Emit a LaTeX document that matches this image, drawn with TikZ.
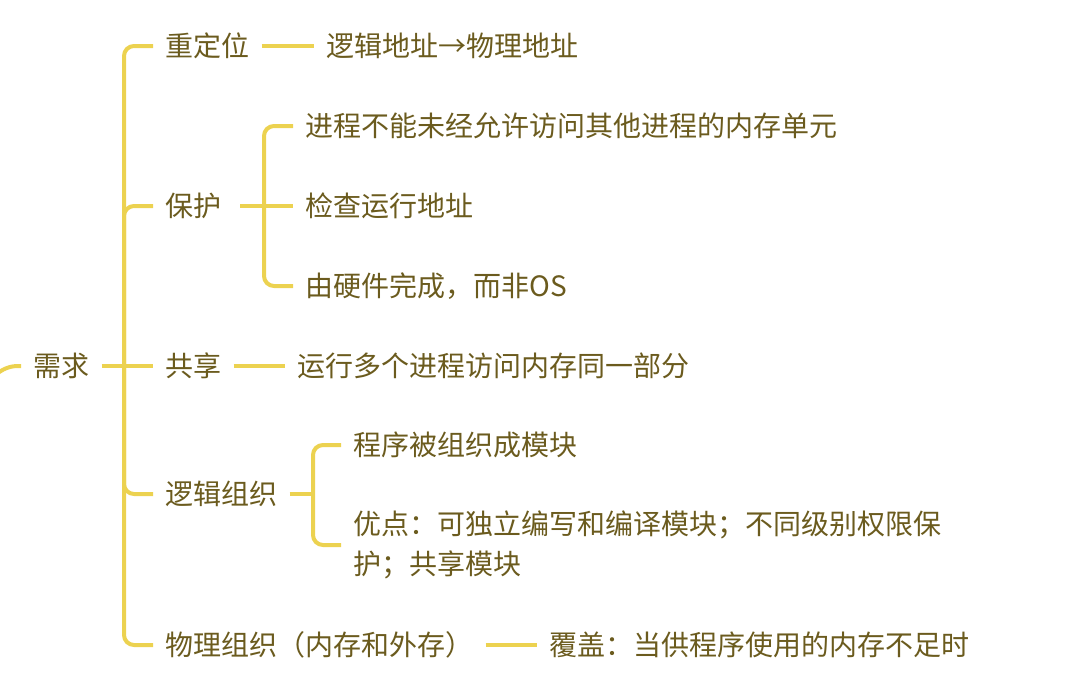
\documentclass[tikz,border=0pt]{standalone}
\usepackage{fontspec}
\setmainfont{Noto Sans CJK SC}
\definecolor{branch}{RGB}{236,210,80}
\definecolor{ink}{RGB}{107,91,30}

\begin{document}
\begin{tikzpicture}[x=0.75pt, y=-0.75pt,
  every node/.style={anchor=west, inner xsep=9pt, inner ysep=2pt, text=ink,
                     font=\fontsize{21}{30}\selectfont},
  link/.style={draw=branch, line width=3pt},
  brace/.style={link, rounded corners=7.5pt}]
  \useasboundingbox (0,0) rectangle (1068,690);
  \begin{scope}
    \clip (0,0) rectangle (1068,690);
  % root and first level
  \node (req) at (21,366) {需求};
  \node (reloc) at (153,46) {重定位};
  \node (prot) at (153,206) {保护};
  \node (share) at (153,366) {共享};
  \node (logic) at (153,494) {逻辑组织};
  \node (phys) at (153,645) {物理组织（内存和外存）};
  \coordinate (spine) at (124,366);
  \coordinate (up) at (-14,400);
  % second level
  \node (addr) at (314,46) {逻辑地址→物理地址};
  \node (p1) at (293,126) {进程不能未经允许访问其他进程的内存单元};
  \node (p2) at (293,206) {检查运行地址};
  \node (p3) at (293,286) {由硬件完成，而非OS};
  \node (s1) at (285,366) {运行多个进程访问内存同一部分};
  \node (m1) at (341,445) {程序被组织成模块};
  \node[align=left] (m2) at (341,545) {优点：可独立编写和编译模块；不同级别权限保\\护；共享模块};
  \node (o1) at (537,645) {覆盖：当供程序使用的内存不足时};
  \coordinate (pspine) at (264,206);
  \coordinate (lspine) at (313,494);
  % braces
  \draw[link, rounded corners=24pt] (up) |- (req.west);
  \foreach \n in {reloc,prot,logic,phys}{ \draw[brace] (spine) |- (\n.west); }
  \draw[link] (req.east) -- (share.west);
  \draw[brace] (p1.west) -| (pspine) |- (p3.west);
  \draw[link] ([xshift=5pt]prot.east) -- (p2.west);
  \draw[brace] (m1.west) -| (lspine) |- (m2.west);
  \draw[link] (logic.east) -- (lspine);
  \foreach \a/\b in {reloc/addr,share/s1,phys/o1}{ \draw[link] (\a.east) -- (\b.west); }
  \end{scope}
\end{tikzpicture}
\end{document}
